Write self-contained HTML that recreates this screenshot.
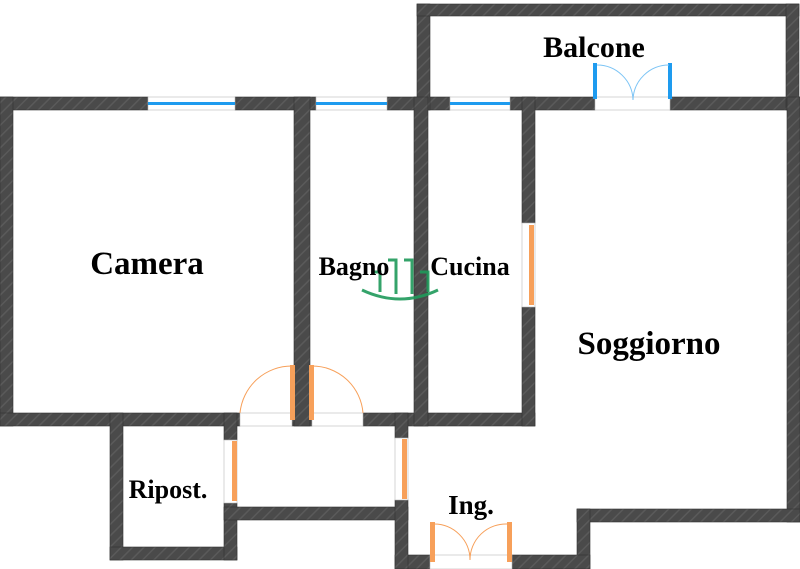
<!DOCTYPE html>
<html><head><meta charset="utf-8"><style>
html,body{margin:0;padding:0;background:#fff;}
svg{display:block;}
text{font-family:"Liberation Serif",serif;font-weight:bold;fill:#000;}
</style></head><body>
<svg width="800" height="569" viewBox="0 0 800 569" xmlns="http://www.w3.org/2000/svg">
<defs>
<pattern id="h" width="8" height="8" patternUnits="userSpaceOnUse" patternTransform="rotate(45)">
<rect width="8" height="8" fill="#4a4a4a"/><rect width="1.5" height="8" fill="#5a5a5a"/>
</pattern>
</defs>
<g fill="url(#h)" stroke="#333" stroke-width="0.6">
<rect x="0" y="97" width="148" height="13"/>
<rect x="235" y="97" width="81" height="13"/>
<rect x="387" y="97" width="63" height="13"/>
<rect x="510" y="97" width="85" height="13"/>
<rect x="670" y="97" width="130" height="13"/>
<rect x="417" y="4" width="13" height="106"/>
<rect x="417" y="4" width="382" height="12"/>
<rect x="786" y="4" width="13" height="106"/>
<rect x="0" y="97" width="13" height="329"/>
<rect x="787" y="97" width="13" height="425"/>
<rect x="577" y="509" width="223" height="13"/>
<rect x="577" y="509" width="13" height="60"/>
<rect x="512" y="555" width="78" height="14"/>
<rect x="395" y="555" width="35" height="14"/>
<rect x="0" y="413" width="240" height="13"/>
<rect x="292" y="413" width="20" height="13"/>
<rect x="363" y="413" width="172" height="13"/>
<rect x="294" y="97" width="16" height="329"/>
<rect x="414" y="97" width="14" height="329"/>
<rect x="522" y="97" width="13" height="126"/>
<rect x="522" y="307" width="13" height="119"/>
<rect x="110" y="413" width="13" height="147"/>
<rect x="110" y="547" width="127" height="13"/>
<rect x="224" y="413" width="13" height="27"/>
<rect x="224" y="503" width="13" height="57"/>
<rect x="224" y="507" width="184" height="13"/>
<rect x="395" y="413" width="13" height="25"/>
<rect x="395" y="500" width="13" height="69"/>
</g>
<g>
<rect x="148" y="97" width="87" height="13" fill="#fff" stroke="#bbb" stroke-width="0.6"/>
<rect x="148" y="102" width="87" height="3" fill="#1e9bef"/>
<rect x="316" y="97" width="71" height="13" fill="#fff" stroke="#bbb" stroke-width="0.6"/>
<rect x="316" y="102" width="71" height="3" fill="#1e9bef"/>
<rect x="450" y="97" width="60" height="13" fill="#fff" stroke="#bbb" stroke-width="0.6"/>
<rect x="450" y="102" width="60" height="3" fill="#1e9bef"/>
</g>
<rect x="595" y="97" width="75" height="13" fill="#fff" stroke="#bbb" stroke-width="0.6"/>
<rect x="593" y="63" width="4" height="36" fill="#1e9bef"/>
<rect x="668" y="63" width="4" height="36" fill="#1e9bef"/>
<path d="M597 65 A36 36 0 0 1 633 100 M669 65 A36 36 0 0 0 633 100" fill="none" stroke="#7cc4f5" stroke-width="1"/>
<rect x="240" y="413" width="52" height="13" fill="#fff" stroke="#bbb" stroke-width="0.6"/>
<rect x="312" y="413" width="51" height="13" fill="#fff" stroke="#bbb" stroke-width="0.6"/>
<rect x="290" y="365" width="5" height="55" fill="#f7a05a"/>
<rect x="309" y="365" width="5" height="55" fill="#f7a05a"/>
<path d="M240 413 A52 52 0 0 1 292 366 M363 413 A51 51 0 0 0 312 366" fill="none" stroke="#f7a05a" stroke-width="1"/>
<rect x="522" y="223" width="13" height="84" fill="#fff" stroke="#bbb" stroke-width="0.6"/>
<rect x="529" y="225" width="5" height="80" fill="#f7a05a"/>
<rect x="224" y="440" width="13" height="63" fill="#fff" stroke="#bbb" stroke-width="0.6"/>
<rect x="232" y="441" width="5" height="60" fill="#f7a05a"/>
<rect x="395" y="438" width="13" height="62" fill="#fff" stroke="#bbb" stroke-width="0.6"/>
<rect x="402" y="439" width="5" height="60" fill="#f7a05a"/>
<rect x="430" y="555" width="82" height="14" fill="#fff" stroke="#bbb" stroke-width="0.6"/>
<rect x="430" y="522" width="5" height="40" fill="#f7a05a"/>
<rect x="507" y="522" width="5" height="40" fill="#f7a05a"/>
<path d="M434 524 A36 36 0 0 1 470 560 M508 524 A36 36 0 0 0 470 560" fill="none" stroke="#f7a05a" stroke-width="1"/>
<g stroke="#1f9a5a" stroke-width="3" fill="none" opacity="0.9">
<path d="M362 290 Q400 308 438 290"/>
<path d="M372 272 L380 272 L380 292 M388 260 L396 260 L396 294 M404 260 L412 260 L412 294 M420 272 L428 272 L428 292"/>
</g>
<text x="147" y="274" font-size="33" text-anchor="middle">Camera</text>
<text x="354" y="275" font-size="26" text-anchor="middle">Bagno</text>
<text x="470" y="275" font-size="26" text-anchor="middle">Cucina</text>
<text x="649" y="354" font-size="33" text-anchor="middle">Soggiorno</text>
<text x="594" y="57" font-size="30" text-anchor="middle">Balcone</text>
<text x="168" y="498" font-size="26" text-anchor="middle">Ripost.</text>
<text x="471" y="514" font-size="27" text-anchor="middle">Ing.</text>
</svg>
</body></html>
